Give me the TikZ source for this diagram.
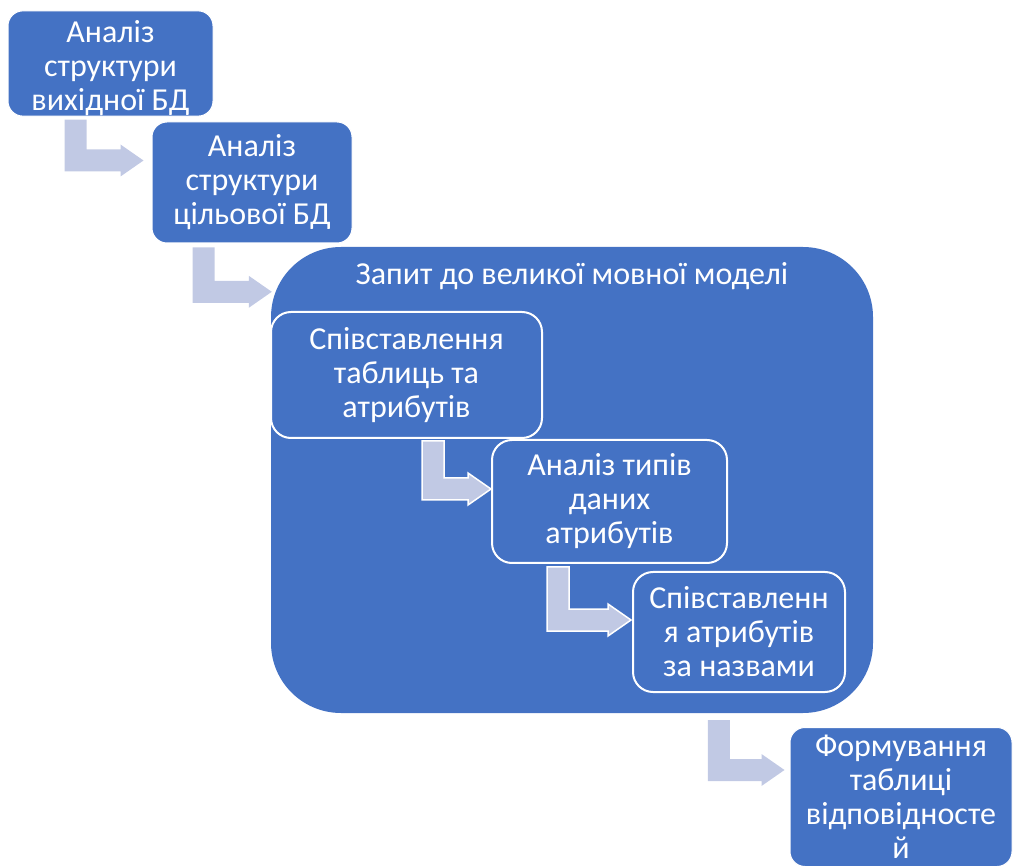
\documentclass[tikz,border=0pt]{standalone}
\usepackage{fontspec}
\setmainfont{Carlito}
\usetikzlibrary{calc}
\definecolor{boxblue}{RGB}{68,114,196}
\definecolor{arrowcol}{RGB}{193,201,228}
\newcommand\bentarrow[3][]{%
  \path[#1] let \p1=(#2), \p2=(#3) in
    (\x1,\y1) -- (\x1+22pt,\y1) -- (\x1+22pt,\y2+11pt) -- (\x2-23pt,\y2+11pt)
    -- (\x2-23pt,\y2+16pt) -- (\x2,\y2) -- (\x2-23pt,\y2-16pt)
    -- (\x2-23pt,\y2-11pt) -- (\x1,\y2-11pt) -- cycle;}
\begin{document}
\begin{tikzpicture}[x=1pt,y=-1pt,
  txt/.style={text=white, font=\fontsize{32}{34}\selectfont, align=center, inner sep=0pt},
  outerbox/.style={txt, fill=boxblue, draw=white, line width=1pt, rounded corners=15pt},
  innerbox/.style={txt, fill=boxblue, draw=white, line width=2pt, rounded corners=20pt},
  flowarrow/.style={fill=arrowcol},
  innerarrow/.style={fill=arrowcol, draw=white, line width=1.5pt}]
\useasboundingbox (0,0) rectangle (1013,866);
\clip (0,0) rectangle (1013,866);
\node[outerbox, minimum width=205pt, minimum height=103pt] (b1) at (110.5,63.5) {\rule{0pt}{32pt}Аналіз\\структури\\вихідної БД};
\node[outerbox, minimum width=200pt, minimum height=121pt] (b2) at (252,182.5) {Аналіз\\структури\\цільової БД};
\node[fill=boxblue, rounded corners=70pt, minimum width=602pt, minimum height=466pt, inner sep=0pt] (llm) at (572,480) {};
\node[txt, anchor=base] (llmtitle) at (572,285) {Запит до великої мовної моделі};
\node[innerbox, minimum width=271pt, minimum height=126pt] (in1) at (406.5,375) {Співставлення\\таблиць та\\атрибутів};
\node[innerbox, minimum width=235pt, minimum height=123pt] (in2) at (609.5,501.5) {Аналіз типів\\даних\\атрибутів};
\node[innerbox, minimum width=212pt, minimum height=120pt] (in3) at (739,632) {Співставленн\\я атрибутів\\за назвами};
\node[outerbox, minimum width=222pt, minimum height=139pt] (b7) at (901,797) {Формування\\таблиці\\відповідносте\\й};
\bentarrow[flowarrow]{$(b1.south west)+(57,3)$}{$(b2.north west)+(-8,39)$}
\bentarrow[flowarrow]{$(b2.south west)+(41,4)$}{$(llm.north west)+(1,45)$}
\bentarrow[innerarrow]{$(in1.south west)+(152,2)$}{$(in2.north west)+(0,50)$}
\bentarrow[innerarrow]{$(in2.south west)+(56,3)$}{$(in3.north west)+(-1,49)$}
\bentarrow[flowarrow]{$(llm.south west)+(437,7)$}{$(b7.north west)+(-5,43)$}
\end{tikzpicture}
\end{document}
